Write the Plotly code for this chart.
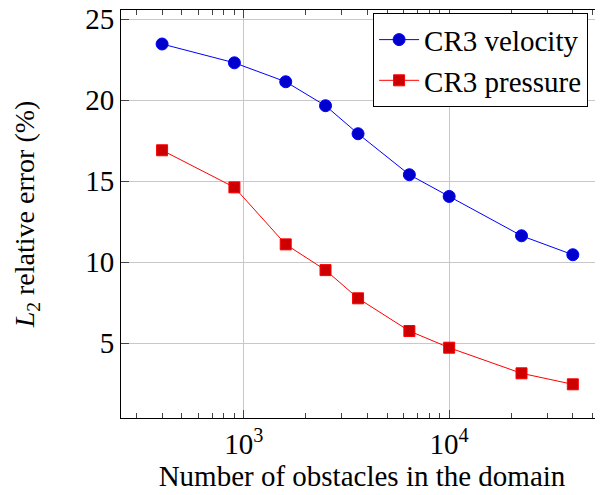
import plotly.graph_objects as go

obstacles = [400, 900, 1600, 2500, 3600, 6400, 10000, 22500, 40000]
velocity = [23.46, 22.3, 21.13, 19.65, 17.92, 15.39, 14.05, 11.62, 10.45]
pressure = [16.9, 14.61, 11.09, 9.5, 7.76, 5.74, 4.71, 3.13, 2.45]

x_major = [1000, 10000]
x_major_text = ["10<sup>3</sup>", "10<sup>4</sup>"]
x_minor = [m * d for d in (100, 1000, 10000) for m in range(2, 10)]
y_ticks = [5, 10, 15, 20, 25]

FONT = "Liberation Serif"

fig = go.Figure()
fig.add_trace(go.Scatter(
    x=obstacles, y=velocity, name="CR3 velocity", mode="lines+markers",
    line=dict(color="rgb(0,0,255)", width=1),
    marker=dict(symbol="circle", size=12, color="rgb(0,0,204)",
                line=dict(color="rgb(0,0,255)", width=1)),
))
fig.add_trace(go.Scatter(
    x=obstacles, y=pressure, name="CR3 pressure", mode="lines+markers",
    line=dict(color="rgb(255,0,0)", width=1),
    marker=dict(symbol="square", size=11, color="rgb(204,0,0)",
                line=dict(color="rgb(255,0,0)", width=1)),
))

fig.update_layout(
    width=595, height=487,
    margin=dict(l=113, r=0, t=2, b=77, autoexpand=False),
    paper_bgcolor="white", plot_bgcolor="white",
    font=dict(family=FONT, size=28, color="black"),
    showlegend=True,
    legend=dict(x=0.523, y=0.992, xanchor="left", yanchor="top",
                bgcolor="white", bordercolor="black", borderwidth=1,
                font=dict(family=FONT, size=29), tracegroupgap=0,
                itemwidth=40),
)
fig.update_xaxes(
    type="log", range=[2.402, 4.749], automargin=False,
    tickmode="array", tickvals=x_major, ticktext=x_major_text,
    ticks="inside", ticklen=8, tickcolor="#444", tickwidth=1,
    showgrid=True, gridcolor="#c8c8c8", gridwidth=1,
    showline=True, linecolor="black", linewidth=1, mirror="allticks",
    zeroline=False, ticklabeloverflow="allow",
    tickfont=dict(family=FONT, size=29),
    minor=dict(tickmode="array", tickvals=x_minor, ticks="inside",
               ticklen=5, tickcolor="#444", showgrid=False),
    title=dict(text="Number of obstacles in the domain",
               font=dict(family=FONT, size=29), standoff=6),
)
fig.update_yaxes(
    range=[0.37, 25.56], automargin=False,
    tickmode="array", tickvals=y_ticks,
    ticks="inside", ticklen=8, tickcolor="#444", tickwidth=1,
    showgrid=True, gridcolor="#c8c8c8", gridwidth=1,
    showline=True, linecolor="black", linewidth=1, mirror="allticks",
    zeroline=False, ticklabeloverflow="allow",
    tickfont=dict(family=FONT, size=29),
    title=dict(text="<i>L</i><sub>2</sub> relative error (%)",
               font=dict(family=FONT, size=28), standoff=42),
)

fig.write_html("out.html")
